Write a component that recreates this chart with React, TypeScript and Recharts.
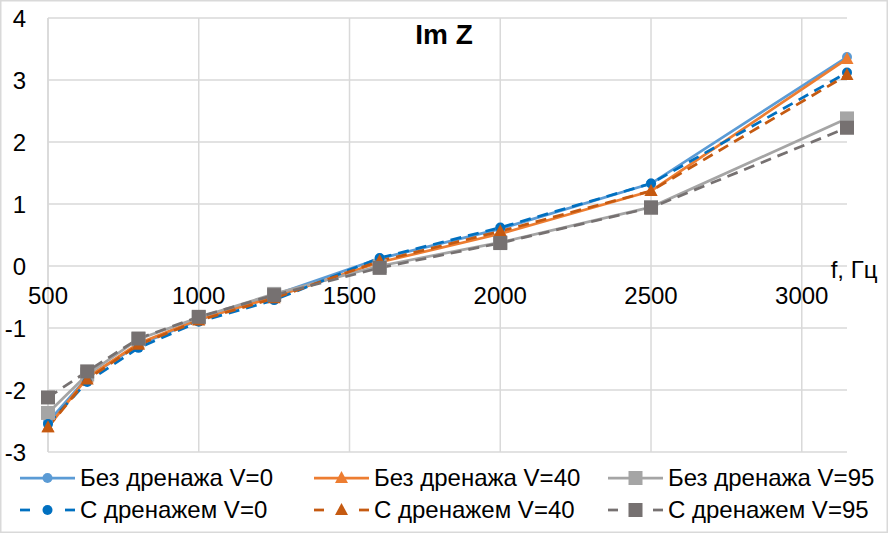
import React from "react";
import {
  LineChart,
  Line,
  XAxis,
  YAxis,
  CartesianGrid,
  ReferenceDot,
  ReferenceLine,
} from "recharts";

// third-octave frequencies, Hz
const freqs = [500, 630, 800, 1000, 1250, 1600, 2000, 2500, 3150];

// Im Z, without drainage
const bezV0 = [-2.52, -1.8, -1.27, -0.87, -0.47, 0.12, 0.6, 1.33, 3.37];
const bezV40 = [-2.6, -1.8, -1.25, -0.86, -0.5, 0.06, 0.52, 1.21, 3.34];
const bezV95 = [-2.37, -1.75, -1.18, -0.83, -0.45, 0.0, 0.38, 0.95, 2.38];

// Im Z, with drainage
const sV0 = [-2.55, -1.87, -1.32, -0.9, -0.55, 0.13, 0.62, 1.33, 3.12];
const sV40 = [-2.6, -1.83, -1.27, -0.88, -0.52, 0.08, 0.56, 1.21, 3.08];
const sV95 = [-2.12, -1.7, -1.17, -0.82, -0.47, -0.03, 0.37, 0.94, 2.23];

const xTicks = [500, 1000, 1500, 2000, 2500, 3000];
const yTicks = [-3, -2, -1, 0, 1, 2, 3, 4];

const FONT = '"Liberation Sans", Arial, sans-serif';
const GRID = "#d9d9d9";
const TICK_FS = 24;

type Shape = "circle" | "triangle" | "square";

const series: {
  key: string;
  name: string;
  values: number[];
  color: string;
  dashed: boolean;
  shape: Shape;
}[] = [
  { key: "b0", name: "Без дренажа V=0", values: bezV0, color: "#5b9bd5", dashed: false, shape: "circle" },
  { key: "b40", name: "Без дренажа V=40", values: bezV40, color: "#ed7d31", dashed: false, shape: "triangle" },
  { key: "b95", name: "Без дренажа V=95", values: bezV95, color: "#a5a5a5", dashed: false, shape: "square" },
  { key: "s0", name: "С дренажем V=0", values: sV0, color: "#0070c0", dashed: true, shape: "circle" },
  { key: "s40", name: "С дренажем V=40", values: sV40, color: "#c55a11", dashed: true, shape: "triangle" },
  { key: "s95", name: "С дренажем V=95", values: sV95, color: "#767171", dashed: true, shape: "square" },
];

const data = freqs.map((f, i) => {
  const row: any = { f };
  series.forEach((s) => (row[s.key] = s.values[i]));
  return row;
});

function Marker({ cx, cy, shape, color }: { cx: number; cy: number; shape: Shape; color: string }) {
  if (cx == null || cy == null) return null;
  if (shape === "circle") return <circle cx={cx} cy={cy} r={5} fill={color} />;
  if (shape === "triangle")
    return <polygon points={`${cx},${cy - 7} ${cx - 6.5},${cy + 5} ${cx + 6.5},${cy + 5}`} fill={color} />;
  return <rect x={cx - 7} y={cy - 7} width={14} height={14} fill={color} />;
}

// legend columns (left edge of the icon) and row centers
const legendCols = [20, 314, 608];
const legendRows = [478, 510];

export default function App() {
  return (
    <div style={{ position: "absolute", left: 0, top: 0, width: 888, height: 533, background: "#fff" }}>
      <LineChart
        width={888}
        height={533}
        data={data}
        margin={{ top: 18, right: 41, bottom: 81, left: 8 }}
      >
        <CartesianGrid stroke={GRID} strokeWidth={1.5} vertical={false} />
        <XAxis
          dataKey="f"
          type="number"
          domain={[500, 3150]}
          ticks={xTicks}
          height={0}
          tick={false}
          tickLine={false}
          axisLine={false}
        />
        <YAxis
          type="number"
          domain={[-3, 4]}
          ticks={yTicks}
          width={40}
          tickSize={0}
          tickMargin={22}
          axisLine={{ stroke: GRID, strokeWidth: 1.5 }}
          tickLine={false}
          tick={{ fill: "#000", fontSize: TICK_FS, fontFamily: FONT }}
        />
        {xTicks.map((t) => (
          <ReferenceLine key={`vg-${t}`} x={t} stroke={GRID} strokeWidth={1.5} />
        ))}
        {xTicks.map((t) => (
          <ReferenceDot
            key={`xl-${t}`}
            x={t}
            y={0}
            r={0}
            stroke="none"
            fill="none"
            ifOverflow="visible"
            label={(p: any) => (
              <text
                x={p.viewBox.x}
                y={p.viewBox.y + 38}
                textAnchor="middle"
                fontSize={TICK_FS}
                fontFamily={FONT}
                fill="#000"
              >
                {t}
              </text>
            )}
          />
        ))}
        <ReferenceDot
          x={3150}
          y={0}
          r={0}
          stroke="none"
          fill="none"
          ifOverflow="visible"
          label={(p: any) => (
            <text
              x={p.viewBox.x + 7}
              y={p.viewBox.y + 12}
              textAnchor="middle"
              fontSize={TICK_FS}
              fontFamily={FONT}
              fill="#000"
            >
              f, Гц
            </text>
          )}
        />
        {series.map((s) => (
          <Line
            key={s.key}
            dataKey={s.key}
            name={s.name}
            type="linear"
            stroke={s.color}
            strokeWidth={2.75}
            strokeDasharray={s.dashed ? "11 7" : undefined}
            isAnimationActive={false}
            activeDot={false}
            dot={(p: any) => (
              <Marker key={`${s.key}-${p.index}`} cx={p.cx} cy={p.cy} shape={s.shape} color={s.color} />
            )}
          />
        ))}
      </LineChart>

      <svg
        width={888}
        height={533}
        style={{ position: "absolute", left: 0, top: 0, pointerEvents: "none" }}
      >
        <rect x={0.75} y={0.75} width={886.5} height={531.5} fill="none" stroke={GRID} strokeWidth={1.5} />
        <text x={444} y={44} textAnchor="middle" fontSize={28} fontWeight="bold" fontFamily={FONT}>
          Im Z
        </text>
        {series.map((s, i) => {
          const x0 = legendCols[i % 3];
          const y = legendRows[Math.floor(i / 3)];
          return (
            <g key={`lg-${s.key}`}>
              {s.dashed ? (
                <>
                  <line x1={x0} x2={x0 + 10} y1={y} y2={y} stroke={s.color} strokeWidth={2.75} />
                  <line x1={x0 + 45} x2={x0 + 55} y1={y} y2={y} stroke={s.color} strokeWidth={2.75} />
                </>
              ) : (
                <line x1={x0} x2={x0 + 55} y1={y} y2={y} stroke={s.color} strokeWidth={2.75} />
              )}
              <Marker cx={x0 + 27.5} cy={y} shape={s.shape} color={s.color} />
              <text x={x0 + 60} y={y + 8} fontSize={TICK_FS} fontFamily={FONT} fill="#000">
                {s.name}
              </text>
            </g>
          );
        })}
      </svg>
    </div>
  );
}
